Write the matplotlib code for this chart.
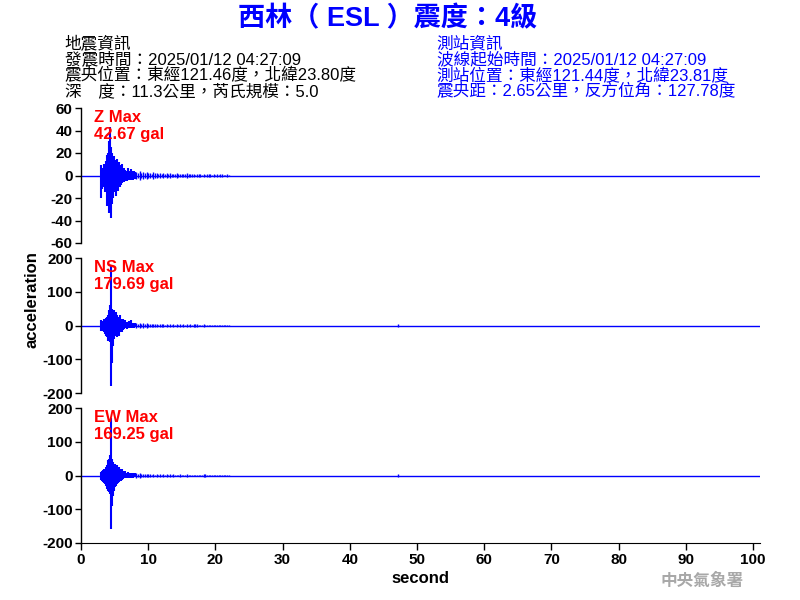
import numpy as np
import matplotlib
matplotlib.use("Agg")
import matplotlib.pyplot as plt

# Fonts ----------------------------------------------------------
plt.rcParams['font.family'] = ['Liberation Sans', 'Noto Sans CJK TC', 'DejaVu Sans']

# Data -----------------------------------------------------------
title = "西林（ ESL ）震度：4級"
quake_info = ["地震資訊",
              "發震時間：2025/01/12 04:27:09",
              "震央位置：東經121.46度，北緯23.80度",
              "深　度：11.3公里，芮氏規模：5.0"]
station_info = ["測站資訊",
                "波線起始時間：2025/01/12 04:27:09",
                "測站位置：東經121.44度，北緯23.81度",
                "震央距：2.65公里，反方位角：127.78度"]

components = ["Z", "NS", "EW"]
max_values = [42.67, 179.69, 169.25]
y_limits = [60, 200, 200]
y_ticks = [[60, 40, 20, 0, -20, -40, -60],
           [200, 100, 0, -100, -200],
           [200, 100, 0, -100, -200]]

# record span (s)
record_start = 0.0
record_end = 101.0

# onset part: one sample every 0.15 s starting at 3.0 s
onset_t0 = 3.0
onset_dt = 0.15
z_up = [9, 7, 5, 10, 8, 13, 18, 20, 31, 43, 25, 20, 12, 17, 14, 10, 15, 8, 12, 9,
        6, 10, 5, 7, 5, 4, 4, 7, 4, 3, 6, 4, 3, 4, 3]
z_low = [-20, -12, -8, -10, -15, -14, -27, -22, -33, -30, -38, -25, -20, -15, -13, -18, -12, -14, -9, -10,
         -8, -7, -6, -6, -5, -4, -5, -4, -4, -3, -4, -3, -4, -3, -3]
ns_up = [15, 10, 12, 18, 15, 22, 25, 30, 45, 60, 180, 50, 40, 45, 35, 40, 30, 25, 20, 30,
         20, 15, 18, 12, 15, 8, 10, 8, 12, 8, 15, 8, 7, 8, 6]
ns_low = [-15, -12, -15, -20, -25, -30, -35, -45, -40, -50, -178, -110, -60, -40, -30, -25, -35, -20, -30, -20,
          -15, -18, -12, -10, -8, -8, -10, -7, -8, -6, -8, -6, -6, -7, -5]
ew_up = [10, 12, 15, 18, 20, 25, 30, 45, 50, 60, 169, 50, 40, 30, 35, 25, 30, 20, 25, 18,
         15, 20, 12, 10, 12, 8, 7, 10, 7, 6, 8, 6, 7, 5, 6]
ew_low = [-12, -15, -18, -22, -25, -30, -40, -45, -50, -55, -158, -90, -60, -45, -35, -30, -25, -22, -18, -15,
          -15, -12, -10, -8, -8, -7, -8, -6, -7, -6, -6, -5, -6, -5, -5]

# coda part: amplitude every 0.5 s starting at 8.25 s
tail_t0 = 8.25
tail_dt = 0.5
z_tail = [3, 4, 3, 3, 2.5, 3, 2, 2.5, 2, 2, 2.5, 1.5, 2, 1.5, 1.5, 2, 1.5, 1, 1.5, 1,
          1, 1.5, 1, 1, 1, 1.5, 0.8, 1.2]
ns_tail = [8, 7, 6, 6, 5, 5, 4, 5, 4, 4, 3, 4, 3, 3, 4, 3, 3, 5, 3, 2,
           3, 2, 2, 1, 1, 1, 0.5, 0.5]
ew_tail = [7, 6, 5, 5, 4, 4, 4, 3, 4, 3, 3, 3, 2, 3, 2, 3, 2, 2, 2, 2,
           5, 1, 1, 0.5, 0.5, 0.5, 0.5, 0.5]

# small blip late in the record
blip_t = 47.2
blip_amp = [0, 4, 4]

ups = [z_up, ns_up, ew_up]
lows = [z_low, ns_low, ew_low]
tails = [z_tail, ns_tail, ew_tail]

# Plot -----------------------------------------------------------
fig = plt.figure(figsize=(8, 6), dpi=100)
blue = "#0000ff"

fig.text(0.484, 0.968, title, color=blue, fontsize=19.5, fontweight="bold",
         ha="center", va="center")

for i, line in enumerate(quake_info):
    fig.text(0.081, 0.927 - i * 0.0265, line, color="black", fontsize=12,
             ha="left", va="center")
for i, line in enumerate(station_info):
    fig.text(0.546, 0.927 - i * 0.0265, line, color=blue, fontsize=12,
             ha="left", va="center")

left = 81 / 800
width = 678.7 / 800
bottoms = [(600 - 243) / 600, (600 - 393) / 600, (600 - 543) / 600]
height = 135 / 600

axes = []
for k in range(3):
    ax = fig.add_axes([left, bottoms[k], width, height])
    axes.append(ax)

    # baseline of the record
    ax.plot([record_start, record_end], [0, 0], color=blue, lw=1.0)

    t_on = onset_t0 + onset_dt * np.arange(len(ups[k]))
    ax.vlines(t_on, lows[k], ups[k], color=blue, lw=1.5)

    amp = np.array(tails[k])
    t_tail = tail_t0 + tail_dt * np.arange(len(amp))
    ax.vlines(t_tail, -amp, amp, color=blue, lw=1.0)
    # in-between samples for the coda (smaller amplitude)
    ax.vlines(t_tail + tail_dt / 2, -amp * 0.6, amp * 0.6, color=blue, lw=1.0)

    if blip_amp[k] > 0:
        ax.vlines([blip_t], [-blip_amp[k]], [blip_amp[k]], color=blue, lw=1.0)

    ax.set_xlim(0, 101)
    ax.set_ylim(-y_limits[k], y_limits[k])
    ax.set_yticks(y_ticks[k])
    ax.set_yticklabels([str(v) for v in y_ticks[k]], fontweight="bold", fontsize=11)

    for s in ["top", "right"]:
        ax.spines[s].set_visible(False)
    ax.spines["left"].set_linewidth(1.0)
    ax.tick_params(axis="y", direction="out", length=4, width=1, pad=2)

    if k < 2:
        ax.spines["bottom"].set_visible(False)
        ax.set_xticks([])
    else:
        ax.set_xticks(np.arange(0, 101, 10))
        ax.set_xticklabels([str(v) for v in range(0, 101, 10)],
                           fontweight="bold", fontsize=11)
        ax.tick_params(axis="x", direction="out", length=5, width=1, pad=2)
        ax.set_xlabel("second", fontsize=12, fontweight="bold", labelpad=3)

    ax.text(0.019, 0.985, f"{components[k]} Max\n{max_values[k]:.2f} gal",
            transform=ax.transAxes, color="red", fontsize=12, fontweight="bold",
            ha="left", va="top", linespacing=1.15)

fig.text(32 / 800, 0.5, "acceleration", rotation=90, fontsize=12,
         fontweight="bold", ha="center", va="center")

fig.text(0.877, 0.032, "中央氣象署", color="#a8a8a8", fontsize=12,
         fontweight="bold", ha="center", va="center")

fig.savefig("out.png", dpi=100)
